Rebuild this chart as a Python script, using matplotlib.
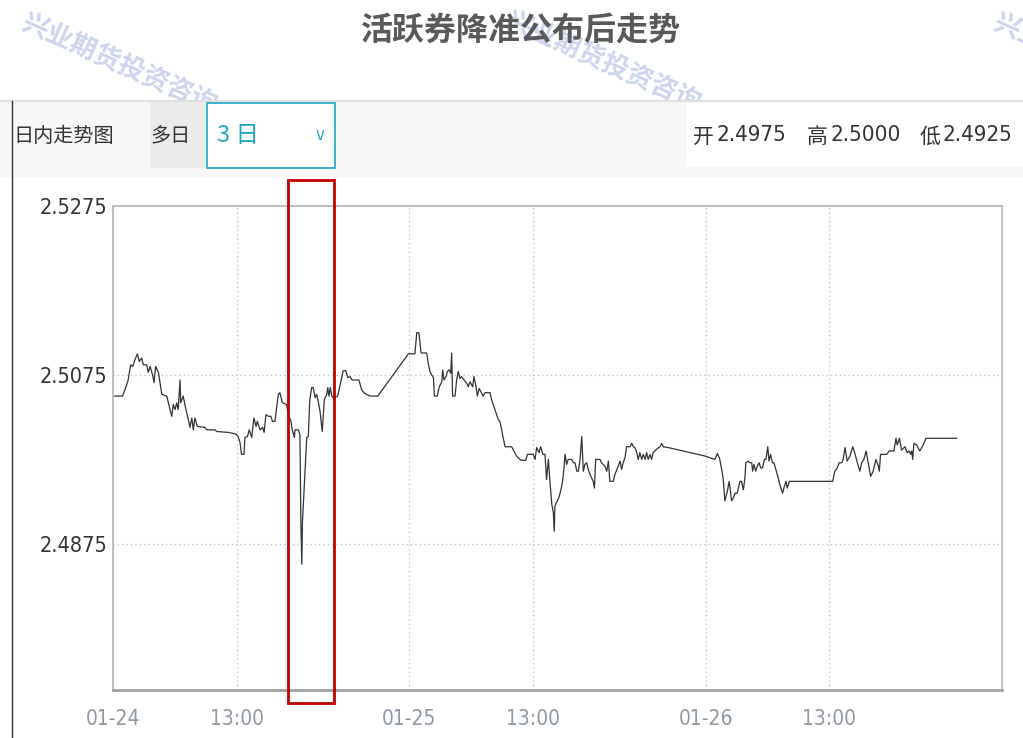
import matplotlib
matplotlib.use("Agg")
import matplotlib.pyplot as plt
from matplotlib.patches import Rectangle
from matplotlib.lines import Line2D

plt.rcParams['font.family'] = ['Noto Sans CJK SC', 'DejaVu Sans']

title = "活跃券降准公布后走势"
watermark = "兴业期货投资咨询"
tab_labels = ["日内走势图", "多日", "3 日"]
ohlc_labels = ["开", "高", "低"]
ohlc_values = [2.4975, 2.5000, 2.4925]

y_ticks = [2.5275, 2.5075, 2.4875]
x_tick_hours = [0, 4.0, 9.58, 13.58, 19.19, 23.17]
x_tick_labels = ["01-24", "13:00", "01-25", "13:00", "01-26", "13:00"]
highlight_hours = (5.66, 7.15)

# trading hours since 01-24 open (3 sessions on one compressed axis), price
time_h = [
    0.06, 0.31, 0.44, 0.49, 0.57, 0.64, 0.71, 0.79, 0.85, 0.93, 0.98, 1.09, 1.14, 1.20,
    1.28, 1.33, 1.38, 1.47, 1.58, 1.74, 1.82, 1.90, 1.95, 2.01, 2.06, 2.11, 2.17, 2.19,
    2.27, 2.36, 2.44, 2.49, 2.55, 2.60, 2.65, 2.73, 2.98, 3.03, 3.30, 3.36, 3.73, 3.98,
    4.05, 4.11, 4.16, 4.24, 4.27, 4.35, 4.41, 4.49, 4.56, 4.63, 4.67, 4.76, 4.84, 4.89,
    4.95, 5.03, 5.11, 5.16, 5.24, 5.35, 5.40, 5.48, 5.62, 5.67, 5.76, 5.80, 5.87, 5.89,
    6.00, 6.05, 6.08, 6.11, 6.13, 6.19, 6.24, 6.27, 6.32, 6.37, 6.43, 6.48, 6.54, 6.59,
    6.64, 6.70, 6.77, 6.84, 6.92, 6.95, 6.99, 7.03, 7.08, 7.13, 7.27, 7.40, 7.45, 7.53,
    7.60, 7.67, 7.74, 7.96, 8.05, 8.15, 8.32, 8.57,
    9.56, 9.77, 9.83, 9.90, 9.97, 10.02, 10.15, 10.20, 10.26, 10.31, 10.37, 10.40, 10.49,
    10.56, 10.64, 10.67, 10.71, 10.78, 10.82, 10.88, 10.93, 10.96, 10.99, 11.07, 11.12,
    11.17, 11.23, 11.28, 11.36, 11.45, 11.50, 11.55, 11.64, 11.68, 11.75, 11.79, 11.85,
    11.98, 12.04, 12.20, 12.25, 12.36, 12.47, 12.52, 12.58, 12.63, 12.69, 12.90, 13.06,
    13.20, 13.36, 13.41, 13.60, 13.66, 13.71, 13.79, 13.84, 13.91, 13.98, 14.03, 14.09,
    14.14, 14.20, 14.25, 14.28, 14.30, 14.38, 14.44, 14.52, 14.57, 14.63, 14.68, 14.73,
    14.84, 14.90, 14.95, 15.01, 15.06, 15.11, 15.17, 15.22, 15.27, 15.33, 15.38, 15.44,
    15.49, 15.54, 15.58, 15.62, 15.76, 15.81, 15.92, 15.98, 16.03, 16.08, 16.19, 16.24,
    16.35, 16.41, 16.46, 16.51, 16.57, 16.62, 16.73, 16.79, 16.84, 16.89, 16.95, 17.00,
    17.05, 17.11, 17.16, 17.22, 17.27, 17.32, 17.38, 17.43, 17.48, 17.59, 17.70, 17.76,
    17.81, 17.97,
    19.16, 19.32, 19.48, 19.56, 19.63, 19.71, 19.75, 19.80, 19.88, 19.94, 20.02, 20.07,
    20.13, 20.20, 20.29, 20.34, 20.40, 20.45, 20.48, 20.56, 20.61, 20.67, 20.70, 20.74,
    20.80, 20.85, 20.91, 20.96, 21.02, 21.08, 21.13, 21.19, 21.23, 21.28, 21.34, 21.39,
    21.45, 21.53, 21.58, 21.67, 21.71, 21.78, 21.82, 21.89, 23.20, 23.29, 23.36, 23.44,
    23.50, 23.58, 23.63, 23.69, 23.76, 23.85, 23.94, 24.01, 24.09, 24.17, 24.23, 24.30,
    24.37, 24.44, 24.52, 24.60, 24.69, 24.77, 24.80, 24.84, 25.04, 25.12, 25.27, 25.34,
    25.38, 25.45, 25.52, 25.63, 25.70, 25.77, 25.81, 25.85, 25.88, 25.92, 26.01, 26.11,
    26.22, 26.31, 27.30,
]
price = [
    2.5050, 2.5050, 2.5063, 2.5069, 2.5087, 2.5085, 2.5093, 2.5100, 2.5091, 2.5095, 2.5087, 2.5087, 2.5078, 2.5085,
    2.5075, 2.5066, 2.5085, 2.5078, 2.5052, 2.5050, 2.5038, 2.5026, 2.5040, 2.5034, 2.5042, 2.5034, 2.5069, 2.5042,
    2.5050, 2.5034, 2.5022, 2.5013, 2.5024, 2.5010, 2.5024, 2.5014, 2.5013, 2.5010, 2.5010, 2.5008, 2.5007, 2.5005,
    2.5002, 2.4995, 2.4981, 2.4981, 2.5001, 2.5002, 2.5010, 2.5001, 2.5024, 2.5014, 2.5020, 2.5010, 2.5013, 2.5007,
    2.5028, 2.5026, 2.5026, 2.5020, 2.5020, 2.5052, 2.5054, 2.5042, 2.5040, 2.5028, 2.5020, 2.5010, 2.5001, 2.5010,
    2.5010, 2.5004, 2.4900, 2.4851, 2.4900, 2.4943, 2.4979, 2.5001, 2.5002, 2.5046, 2.5060, 2.5060, 2.5048, 2.5052,
    2.5044, 2.5032, 2.5008, 2.5046, 2.5052, 2.5060, 2.5050, 2.5060, 2.5050, 2.5048, 2.5050, 2.5072, 2.5080, 2.5080,
    2.5072, 2.5073, 2.5069, 2.5069, 2.5057, 2.5053, 2.5050, 2.5050,
    2.5100, 2.5100, 2.5125, 2.5125, 2.5101, 2.5101, 2.5101, 2.5089, 2.5079, 2.5075, 2.5072, 2.5050, 2.5050,
    2.5061, 2.5067, 2.5081, 2.5069, 2.5073, 2.5079, 2.5081, 2.5077, 2.5101, 2.5050, 2.5050, 2.5069,
    2.5079, 2.5071, 2.5073, 2.5069, 2.5065, 2.5061, 2.5067, 2.5061, 2.5073, 2.5061, 2.5050, 2.5059,
    2.5050, 2.5054, 2.5054, 2.5046, 2.5034, 2.5022, 2.5020, 2.5010, 2.5000, 2.4990, 2.4990, 2.4979,
    2.4974, 2.4974, 2.4981, 2.4981, 2.4975, 2.4989, 2.4983, 2.4990, 2.4981, 2.4981, 2.4951, 2.4975,
    2.4949, 2.4922, 2.4912, 2.4890, 2.4920, 2.4926, 2.4931, 2.4943, 2.4955, 2.4981, 2.4969, 2.4975,
    2.4975, 2.4971, 2.4971, 2.4961, 2.4961, 2.4973, 2.5002, 2.4961, 2.4969, 2.4971, 2.4963, 2.4957,
    2.4953, 2.4949, 2.4941, 2.4975, 2.4975, 2.4971, 2.4967, 2.4961, 2.4973, 2.4949, 2.4949, 2.4957,
    2.4967, 2.4973, 2.4963, 2.4971, 2.4977, 2.4990, 2.4990, 2.4994, 2.4990, 2.4989, 2.4983, 2.4975,
    2.4983, 2.4975, 2.4981, 2.4975, 2.4983, 2.4975, 2.4981, 2.4975, 2.4983, 2.4987, 2.4990, 2.4994,
    2.4990, 2.4989,
    2.4979, 2.4977, 2.4975, 2.4982, 2.4976, 2.4961, 2.4951, 2.4926, 2.4937, 2.4949, 2.4926, 2.4929,
    2.4935, 2.4935, 2.4949, 2.4949, 2.4939, 2.4953, 2.4971, 2.4973, 2.4971, 2.4971, 2.4961, 2.4969,
    2.4961, 2.4967, 2.4971, 2.4965, 2.4965, 2.4975, 2.4975, 2.4990, 2.4973, 2.4981, 2.4971, 2.4971,
    2.4963, 2.4953, 2.4945, 2.4935, 2.4941, 2.4949, 2.4941, 2.4949, 2.4949, 2.4949, 2.4961, 2.4965,
    2.4971, 2.4971, 2.4975, 2.4989, 2.4973, 2.4979, 2.4990, 2.4982, 2.4971, 2.4961, 2.4971, 2.4975,
    2.4985, 2.4971, 2.4955, 2.4961, 2.4975, 2.4967, 2.4961, 2.4981, 2.4981, 2.4985, 2.4985, 2.5000,
    2.4992, 2.5000, 2.4986, 2.4990, 2.4983, 2.4985, 2.4981, 2.4985, 2.4975, 2.4994, 2.4992, 2.4985,
    2.4992, 2.5000, 2.5000,
]

W, H = 1023, 738
COND = dict(family=['DejaVu Sans'], fontstretch='condensed')

def fx(px):
    return px / W

def fy(py):
    return 1 - py / H

fig = plt.figure(figsize=(W / 100, H / 100), dpi=100, facecolor='white')

# watermark (sits under the toolbar band)
for x0, y0 in [(28, 10), (512, 8), (1000, 10)]:
    fig.text(fx(x0), fy(y0), watermark, rotation=-24, rotation_mode='anchor',
             ha='left', va='top', fontsize=19, fontweight='bold', color='#cdd5ec', zorder=0.5)

fig.text(fx(521), fy(31), title, ha='center', va='center', fontsize=23,
         fontweight='bold', color='#595959', zorder=3)

# toolbar
fig.patches.append(Rectangle((0, fy(177)), 1, 76 / H, transform=fig.transFigure,
                             facecolor='#f7f7f7', edgecolor='none', zorder=1))
fig.lines.append(Line2D([0, 1], [fy(101), fy(101)], transform=fig.transFigure,
                        color='#e0e0e0', lw=1.5, zorder=1.1))
fig.lines.append(Line2D([fx(11.5), fx(11.5)], [fy(101), 0], transform=fig.transFigure,
                        color='#333333', lw=1, zorder=1.1))
fig.patches.append(Rectangle((fx(150), fy(168)), 57 / W, 66 / H, transform=fig.transFigure,
                             facecolor='#ebebeb', edgecolor='none', zorder=1.2))
fig.patches.append(Rectangle((fx(207), fy(168)), 128 / W, 65 / H, transform=fig.transFigure,
                             facecolor='white', edgecolor='#2eaec4', lw=1.3, zorder=1.2))
fig.patches.append(Rectangle((fx(687), fy(167)), 336 / W, 64 / H, transform=fig.transFigure,
                             facecolor='white', edgecolor='none', zorder=1.2))

fig.text(fx(13), fy(137), tab_labels[0], ha='left', va='center', fontsize=14.5, color='#333333', zorder=3)
fig.text(fx(150), fy(137), tab_labels[1], ha='left', va='center', fontsize=14.5, color='#333333', zorder=3)
fig.text(fx(217), fy(136), tab_labels[2], ha='left', va='center', fontsize=17, color='#1fa8c0', zorder=3)
fig.text(fx(320), fy(135), "v", ha='center', va='center', fontsize=12, color='#1fa8c0', zorder=3, **COND)

for x0, lab, val in zip([693, 807, 920], ohlc_labels, ohlc_values):
    fig.text(fx(x0), fy(137), lab, ha='left', va='center', fontsize=15, color='#333333', zorder=3)
    fig.text(fx(x0 + 23), fy(135), f"{val:.4f}", ha='left', va='center', fontsize=16,
             color='#333333', zorder=3, **COND)

# chart
ax = fig.add_axes([fx(113), fy(690), 889 / W, 484 / H])
ax.plot(time_h, price, color='#333333', lw=0.9)
ax.set_xlim(0, 28.77)
ax.set_ylim(2.4702, 2.5275)

ax.set_yticks(y_ticks)
ax.set_yticklabels([f"{v:.4f}" for v in y_ticks], fontsize=15.5, color='#333333', **COND)
ax.set_xticks(x_tick_hours)
ax.set_xticklabels(x_tick_labels, fontsize=15, color='#8e99a3', **COND)
ax.tick_params(axis='both', length=0)
ax.tick_params(axis='y', pad=4)
ax.tick_params(axis='x', pad=14)
ax.grid(True, linestyle=(0, (1, 2.5)), color='#bdbdbd', lw=0.9)

for side in ['left', 'top']:
    ax.spines[side].set_color('#b5b5b5')
    ax.spines[side].set_linewidth(1.2)
ax.spines['right'].set_color('#c4c4c4')
ax.spines['right'].set_linewidth(1.5)
ax.spines['bottom'].set_color('#a0a0a0')
ax.spines['bottom'].set_linewidth(2)

# red box around the announcement window
y_lo, y_hi = 2.4687, 2.5306
ax.add_patch(Rectangle((highlight_hours[0], y_lo), highlight_hours[1] - highlight_hours[0], y_hi - y_lo,
                       fill=False, edgecolor='#c00000', lw=2, clip_on=False, zorder=5))

fig.savefig("out.png", dpi=100)
